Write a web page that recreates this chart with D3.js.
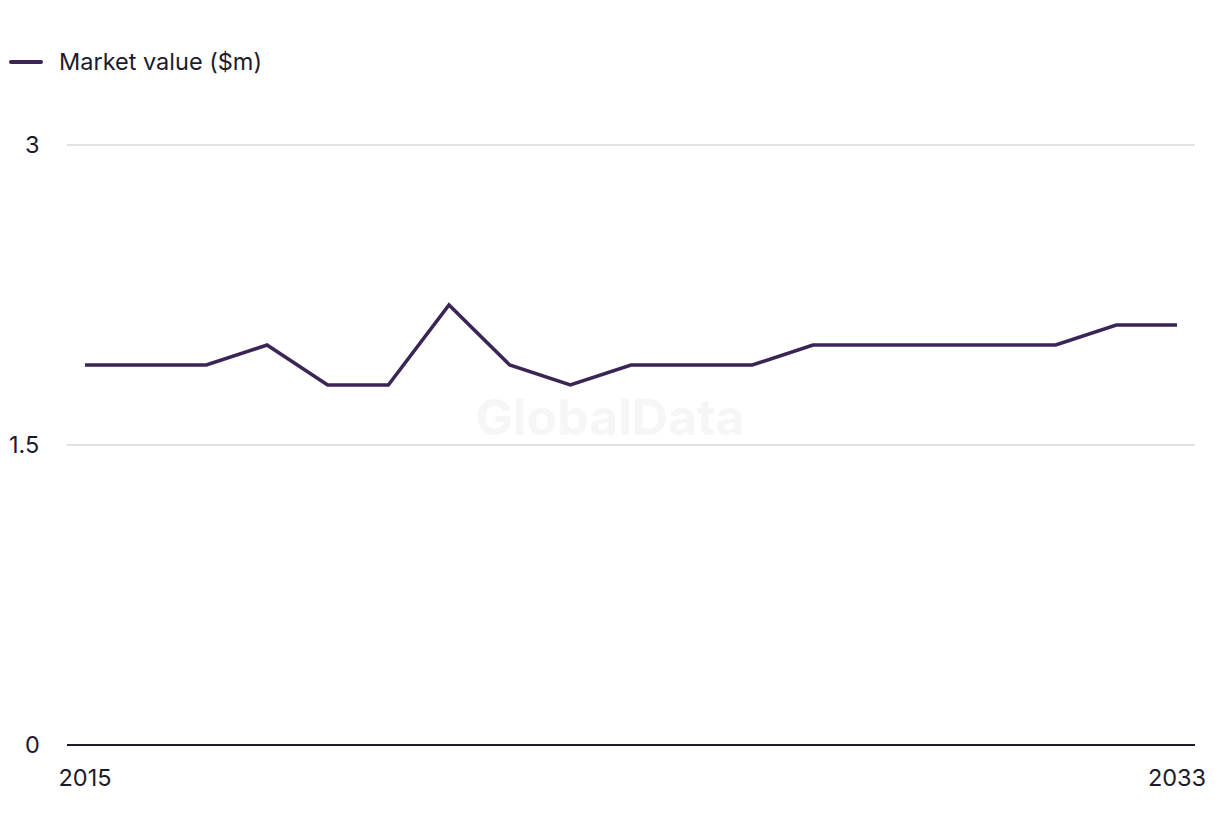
<!DOCTYPE html>
<html>
<head>
<meta charset="utf-8">
<script src="https://cdn.jsdelivr.net/npm/d3@7"></script>
<style>
  body { margin: 0; background: #fff; }
  text { font-family: "Inter", "Noto Sans", sans-serif; }
</style>
</head>
<body>
<div id="chart"></div>
<script>
// data
const years = [2015, 2016, 2017, 2018, 2019, 2020, 2021, 2022, 2023, 2024,
               2025, 2026, 2027, 2028, 2029, 2030, 2031, 2032, 2033];
const marketValue = [1.9, 1.9, 1.9, 2.0, 1.8, 1.8, 2.2, 1.9, 1.8, 1.9,
                     1.9, 1.9, 2.0, 2.0, 2.0, 2.0, 2.0, 2.1, 2.1];
const yTicks = [0, 1.5, 3];
const seriesName = "Market value ($m)";

const W = 1220, H = 836;
const lineColor = "#3a2556";
const textColor = "#1c1b2e";

let svg = d3.select("#chart").append("svg")
  .attr("width", W)
  .attr("height", H);

// scales
let x = d3.scaleLinear().domain([2015, 2033]).range([85, 1177]);
let y = d3.scaleLinear().domain([0, 3]).range([745, 145]);

// gridlines + y labels
svg.selectAll(".grid").data(yTicks.filter(d => d > 0)).enter().append("line")
  .attr("x1", 67).attr("x2", 1195)
  .attr("y1", d => y(d)).attr("y2", d => y(d))
  .attr("stroke", "#d9d9d9")
  .attr("stroke-width", 1.5);

svg.selectAll(".ylab").data(yTicks).enter().append("text")
  .attr("x", d => d === 1.5 ? 9 : 25)
  .attr("y", d => y(d) + 8)
  .attr("font-size", "23.5px")
  .attr("fill", textColor)
  .text(d => d);

// watermark
svg.append("text")
  .attr("x", 610).attr("y", 435)
  .attr("text-anchor", "middle")
  .attr("font-size", "50px")
  .attr("font-weight", "bold")
  .attr("fill", "#f6f6f6")
  .text("GlobalData");

// baseline
svg.append("line")
  .attr("x1", 67).attr("x2", 1195)
  .attr("y1", y(0)).attr("y2", y(0))
  .attr("stroke", "#1c1b2e")
  .attr("stroke-width", 2);

// x labels, only first and last year
svg.selectAll(".xlab").data([years[0], years[years.length - 1]]).enter().append("text")
  .attr("x", d => x(d))
  .attr("y", 786)
  .attr("text-anchor", "middle")
  .attr("font-size", "23.5px")
  .attr("fill", textColor)
  .text(d => d);

// the line
let line = d3.line()
  .x((d, i) => x(years[i]))
  .y(d => y(d));

svg.append("path")
  .datum(marketValue)
  .attr("d", line)
  .attr("fill", "none")
  .attr("stroke", lineColor)
  .attr("stroke-width", 3.5)
  .attr("stroke-linejoin", "miter");

// legend
svg.append("line")
  .attr("x1", 11).attr("x2", 41)
  .attr("y1", 62).attr("y2", 62)
  .attr("stroke", lineColor)
  .attr("stroke-width", 4)
  .attr("stroke-linecap", "round");

svg.append("text")
  .attr("x", 59).attr("y", 70)
  .attr("font-size", "23.5px")
  .attr("fill", textColor)
  .text(seriesName);
</script>
</body>
</html>
